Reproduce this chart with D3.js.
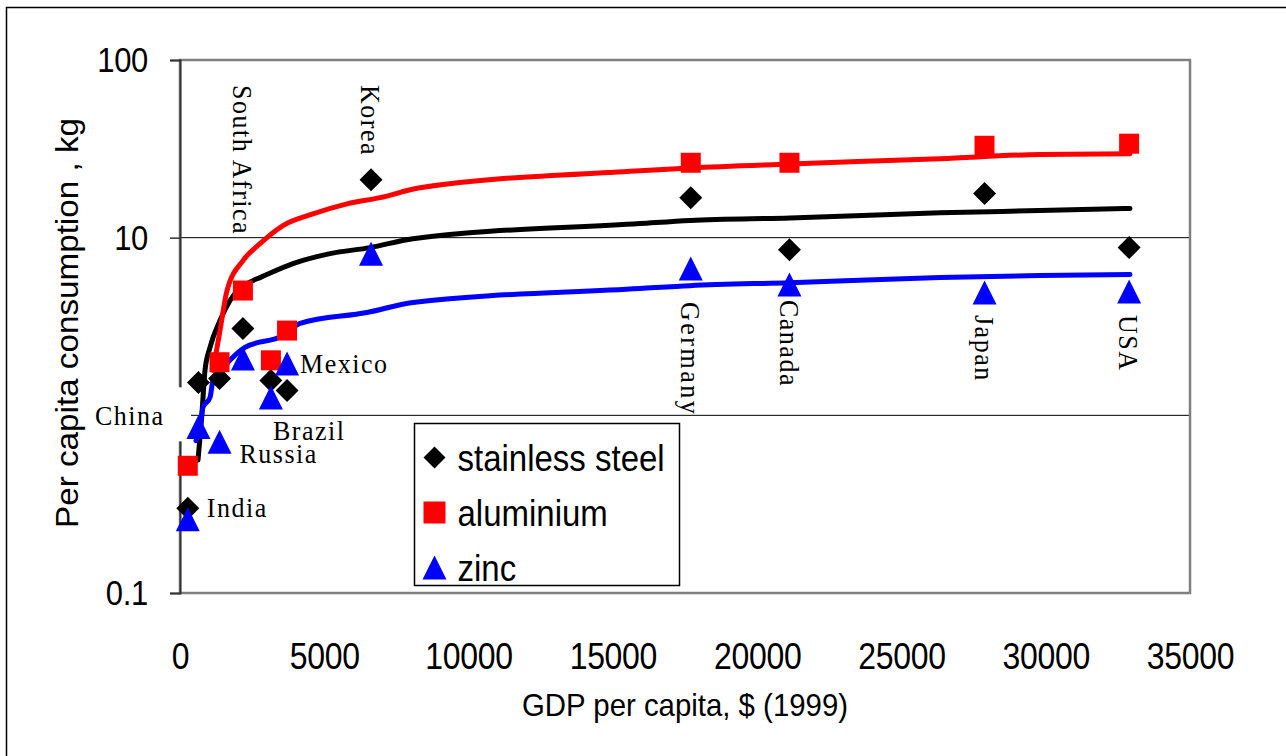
<!DOCTYPE html>
<html>
<head>
<meta charset="utf-8">
<script src="https://cdn.jsdelivr.net/npm/d3@7"></script>
<style>
  html, body { margin: 0; padding: 0; background: #fff; }
  svg { display: block; }
</style>
</head>
<body>
<svg id="chart" width="1286" height="756"></svg>
<script>
// ---- data ----
const countries = ['India', 'China', 'Russia', 'South Africa', 'Brazil', 'Mexico',
                   'Korea', 'Germany', 'Canada', 'Japan', 'USA'];
const gdp = [270, 640, 1370, 2180, 3150, 3710, 6620, 17700, 21120, 27880, 32890];

const stainlessSteel = [0.30, 1.53, 1.61, 3.08, 1.57, 1.38, 21.2, 16.8, 8.56, 17.7, 8.79];
const aluminium      = [0.52, null, 1.99, 5.04, 2.04, 3.00, null, 26.4, 26.4, 32.9, 33.8];
const zinc           = [0.26, 0.86, 0.71, 2.09, 1.26, 1.96, 8.13, 6.70, 5.45, 4.91, 4.97];

// trend lines, sampled along the drawn curves
const steelTrendX = [624, 762, 866, 1040, 1386, 1733, 2530, 2772, 3916, 5198, 6584, 8074, 15940, 17673, 21139, 26337, 29802, 32921];
const steelTrendY = [0.56, 1.03, 1.79, 2.41, 3.42, 4.43, 5.73, 5.96, 7.14, 8.13, 8.79, 9.87, 12.0, 12.5, 12.9, 13.8, 14.2, 14.6];
const aluTrendX = [1144, 1386, 1629, 2183, 2772, 3569, 4609, 5787, 6930, 8317, 15940, 17673, 21139, 26337, 29802, 32921];
const aluTrendY = [1.79, 3.00, 5.04, 7.43, 9.25, 11.7, 13.6, 15.5, 16.8, 19.1, 23.8, 24.7, 26.0, 27.8, 29.4, 29.7];
const zincTrendX = [554, 693, 797, 1040, 1144, 1629, 2250, 3569, 4160, 6480, 8074, 15940, 17673, 21139, 26337, 29802, 32921];
const zincTrendY = [0.72, 0.86, 1.11, 1.26, 1.57, 1.96, 2.41, 2.81, 3.29, 3.79, 4.32, 5.17, 5.37, 5.58, 5.96, 6.12, 6.20];

const xTicks = [0, 5000, 10000, 15000, 20000, 25000, 30000, 35000];
const yTicks = [0.1, 1, 10, 100];
const yTickLabels = ['0.1', '', '10', '100']; // "1" sits under the China label

const seriesNames = ['stainless steel', 'aluminium', 'zinc'];
const seriesColors = ['#000000', '#ff0000', '#0000ff'];
const seriesShapes = ['diamond', 'square', 'triangle'];

// ---- layout ----
const svg = d3.select('#chart');
const plot = { left: 180, right: 1190, top: 60, bottom: 593 };
const sy = 1.15; // the picture's text is a bit taller than wide

const x = d3.scaleLinear().domain([0, 35000]).range([plot.left, plot.right]);
const y = d3.scaleLog().domain([0.1, 100]).range([plot.bottom, plot.top]);

// outer frame
svg.append('rect')
  .attr('x', 6.5).attr('y', 7.5).attr('width', 1300).attr('height', 800)
  .attr('fill', 'none').attr('stroke', '#000').attr('stroke-width', 1.5);

// gridlines at 1 and 10
svg.append('g').selectAll('line')
  .data([1, 10])
  .join('line')
  .attr('x1', plot.left).attr('x2', plot.right)
  .attr('y1', d => y(d)).attr('y2', d => y(d))
  .attr('stroke', '#000').attr('stroke-width', 1);

// plot border
svg.append('rect')
  .attr('x', plot.left).attr('y', plot.top)
  .attr('width', plot.right - plot.left).attr('height', plot.bottom - plot.top)
  .attr('fill', 'none').attr('stroke', '#808080').attr('stroke-width', 2.5);

// y axis
const yAxis = svg.append('g')
  .attr('transform', `translate(${plot.left},0)`)
  .call(d3.axisLeft(y).tickValues(yTicks)
    .tickFormat((d, i) => yTickLabels[i]).tickSize(10).tickPadding(22));
yAxis.select('.domain').attr('stroke', '#333').attr('stroke-width', 2);
yAxis.selectAll('.tick line').attr('stroke', '#333').attr('stroke-width', 1.5);
yAxis.selectAll('text')
  .attr('font-family', 'Liberation Sans, Arial, sans-serif')
  .attr('font-size', 31).attr('fill', '#000')
  .attr('letter-spacing', -0.3)
  .attr('transform', `scale(1,${sy})`);

// x axis (labels only)
const xAxis = svg.append('g')
  .attr('transform', `translate(0,${plot.bottom})`)
  .call(d3.axisBottom(x).tickValues(xTicks).tickFormat(d3.format('d')).tickSize(0));
xAxis.select('.domain').remove();
xAxis.selectAll('text')
  .attr('font-family', 'Liberation Sans, Arial, sans-serif')
  .attr('font-size', 32).attr('fill', '#000')
  .attr('letter-spacing', -0.3)
  .attr('y', 0).attr('dy', '0.35em')
  .attr('transform', `translate(0,63) scale(1,${sy})`);

// axis titles
svg.append('text')
  .attr('transform', `translate(685,705) scale(1,${sy})`)
  .attr('text-anchor', 'middle').attr('dy', '0.35em')
  .attr('font-family', 'Liberation Sans, Arial, sans-serif')
  .attr('font-size', 27).attr('textLength', 326).attr('lengthAdjust', 'spacingAndGlyphs')
  .text('GDP per capita, $ (1999)');

svg.append('text')
  .attr('transform', `translate(67,323) rotate(-90) scale(1,${sy})`)
  .attr('text-anchor', 'middle').attr('dy', '0.35em')
  .attr('font-family', 'Liberation Sans, Arial, sans-serif')
  .attr('font-size', 27).attr('textLength', 410).attr('lengthAdjust', 'spacingAndGlyphs')
  .text('Per capita consumption , kg');

// country labels
const labelFont = 'Liberation Serif, DejaVu Serif, serif';
svg.append('rect')
  .attr('x', 88).attr('y', y(1) - 28).attr('width', x(0) - 88 + 11).attr('height', 54)
  .attr('fill', '#fff');

// horizontal labels: anchored to a country's GDP (or a fixed left edge) and a value level
const hLabels = [
  { name: 'China',  px: 95,  val: 1,     dx: 0 },
  { name: 'India',  ref: 0,  val: 0.303, dx: 19 },
  { name: 'Russia', ref: 2,  val: 0.614, dx: 20 },
  { name: 'Brazil', ref: 4,  val: 0.826, dx: 2 },
  { name: 'Mexico', ref: 5,  val: 1.96,  dx: 13 },
];
hLabels.forEach(l => {
  const lx = l.px !== undefined ? l.px : x(gdp[l.ref]) + l.dx;
  svg.append('text')
    .attr('transform', `translate(${lx},${y(l.val)}) scale(1,1.08)`)
    .attr('dy', '0.35em')
    .attr('font-family', labelFont).attr('font-size', 26)
    .attr('letter-spacing', 1.5)
    .text(l.name);
});

// vertical labels, reading top to bottom
const vLabels = [
  { ref: 3,  top: 85 },
  { ref: 6,  top: 85 },
  { ref: 7,  top: 302 },
  { ref: 8,  top: 300 },
  { ref: 9,  top: 315 },
  { ref: 10, top: 315 },
];
vLabels.forEach(l => {
  svg.append('text')
    .attr('transform', `translate(${x(gdp[l.ref])},${l.top}) rotate(90) scale(1,1.08)`)
    .attr('dy', '0.35em')
    .attr('font-family', labelFont).attr('font-size', 26)
    .attr('letter-spacing', l.ref === 7 ? 2.5 : 1.5)
    .text(countries[l.ref]);
});

// trend lines
const line = d3.line().x(d => x(d[0])).y(d => y(d[1])).curve(d3.curveMonotoneX);
const trends = [
  d3.zip(steelTrendX, steelTrendY),
  d3.zip(aluTrendX, aluTrendY),
  d3.zip(zincTrendX, zincTrendY),
];
trends.forEach((pts, i) => {
  svg.append('path')
    .datum(pts)
    .attr('d', line)
    .attr('fill', 'none')
    .attr('stroke', seriesColors[i])
    .attr('stroke-width', 5)
    .attr('stroke-linecap', 'round')
    .attr('stroke-linejoin', 'round');
});

// marker shapes
function shapePath(shape, r) {
  if (shape === 'diamond') return `M0,${-r}L${r},0L0,${r}L${-r},0Z`;
  if (shape === 'square') return `M${-r},${-r}H${r}V${r}H${-r}Z`;
  return `M0,${-r - 1}L${r + 1},${r + 1}H${-r - 1}Z`;
}
const shapeSize = { diamond: 11.5, square: 10, triangle: 11 };

const allSeries = [stainlessSteel, aluminium, zinc];
allSeries.forEach((vals, i) => {
  const pts = vals.map((v, j) => ({ g: gdp[j], v })).filter(d => d.v != null);
  svg.append('g').selectAll('path')
    .data(pts)
    .join('path')
    .attr('transform', d => `translate(${x(d.g)},${y(d.v)})`)
    .attr('d', shapePath(seriesShapes[i], shapeSize[seriesShapes[i]]))
    .attr('fill', seriesColors[i]);
});

// legend
const legend = svg.append('g').attr('transform', 'translate(414.5,423.5)');
legend.append('rect')
  .attr('width', 265).attr('height', 162)
  .attr('fill', '#fff').attr('stroke', '#000').attr('stroke-width', 1.5);
seriesNames.forEach((name, i) => {
  const ly = 35 + i * 55;
  legend.append('path')
    .attr('transform', `translate(20,${ly - 1})`)
    .attr('d', shapePath(seriesShapes[i], 11))
    .attr('fill', seriesColors[i]);
  legend.append('text')
    .attr('transform', `translate(43,${ly}) scale(1,1.1)`)
    .attr('dy', '0.35em')
    .attr('font-family', 'Liberation Sans, Arial, sans-serif')
    .attr('font-size', 33)
    .attr('letter-spacing', 0)
    .text(name);
});
</script>
</body>
</html>
